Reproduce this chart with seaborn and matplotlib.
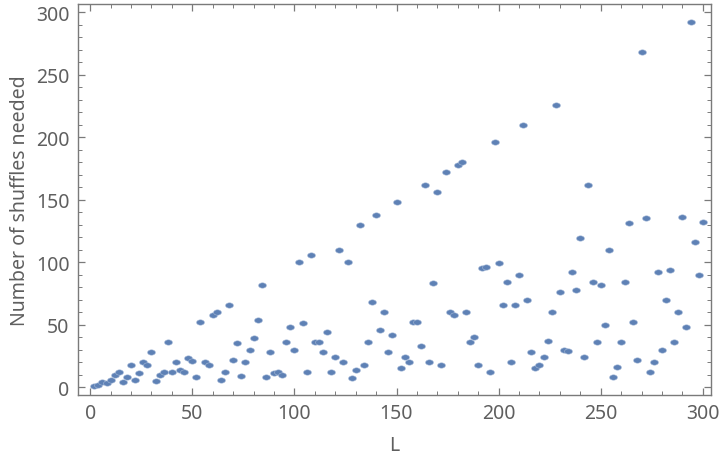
import numpy as np
import pandas as pd
import matplotlib
matplotlib.use("Agg")
import matplotlib.pyplot as plt
from matplotlib.ticker import MultipleLocator
import seaborn as sns

# ── Data: deck size L (even) and perfect shuffles needed ──────────────────
deck_size = list(range(2, 302, 2))
shuffles = [
    1, 2, 4, 3, 6, 10, 12, 4, 8, 18,
    6, 11, 20, 18, 28, 5, 10, 12, 36, 12,
    20, 14, 12, 23, 21, 8, 52, 20, 18, 58,
    60, 6, 12, 66, 22, 35, 9, 20, 30, 39,
    54, 82, 8, 28, 11, 12, 10, 36, 48, 30,
    100, 51, 12, 106, 36, 36, 28, 44, 12, 24,
    110, 20, 100, 7, 14, 130, 18, 36, 68, 138,
    46, 60, 28, 42, 148, 15, 24, 20, 52, 52,
    33, 162, 20, 83, 156, 18, 172, 60, 58, 178,
    180, 60, 36, 40, 18, 95, 96, 12, 196, 99,
    66, 84, 20, 66, 90, 210, 70, 28, 15, 18,
    24, 37, 60, 226, 76, 30, 29, 92, 78, 119,
    24, 162, 84, 36, 82, 50, 110, 8, 16, 36,
    84, 131, 52, 22, 268, 135, 12, 20, 92, 30,
    70, 94, 36, 60, 136, 48, 292, 116, 90, 132,
]
x_ticks = [0, 50, 100, 150, 200, 250, 300]
y_ticks = [0, 50, 100, 150, 200, 250, 300]

df = pd.DataFrame({"L": deck_size, "n": shuffles})

# ── Style ─────────────────────────────────────────────────────────────────
sns.set_style("ticks")
plt.rcParams["font.family"] = ["Noto Sans", "DejaVu Sans"]
FRAME = "#7a7a7a"
TEXT = "#5f5f5f"
DOT = "#5e81b5"

fig = plt.figure(figsize=(7.2, 4.6), dpi=100)
ax = fig.add_axes([0.1083, 0.139, 0.8792, 0.85])

# slightly flattened dot like the original
t = np.linspace(0, 2 * np.pi, 40)
ell = np.column_stack([np.cos(t), 0.68 * np.sin(t)])

sns.scatterplot(data=df, x="L", y="n", ax=ax, marker=ell, s=32,
                color=DOT, edgecolor="#a6bad8", linewidth=0.4, zorder=3)

ax.set_xlim(-6, 304)
ax.set_ylim(-6.4, 306.6)
ax.set_xticks(x_ticks)
ax.set_yticks(y_ticks)
ax.xaxis.set_minor_locator(MultipleLocator(10))
ax.yaxis.set_minor_locator(MultipleLocator(10))

for sp in ax.spines.values():
    sp.set_color(FRAME)
    sp.set_linewidth(1.0)
ax.tick_params(which="major", direction="in", top=True, right=True,
               length=5, width=0.9, color=FRAME, labelcolor=TEXT,
               labelsize=14, pad=6)
ax.tick_params(which="minor", direction="in", top=True, right=True,
               length=3, width=0.7, color=FRAME)

ax.set_xlabel("L", fontsize=14, color=TEXT, labelpad=8)
ax.set_ylabel("Number of shuffles needed", fontsize=14, color=TEXT, labelpad=4)

fig.savefig("out.png", dpi=100)
